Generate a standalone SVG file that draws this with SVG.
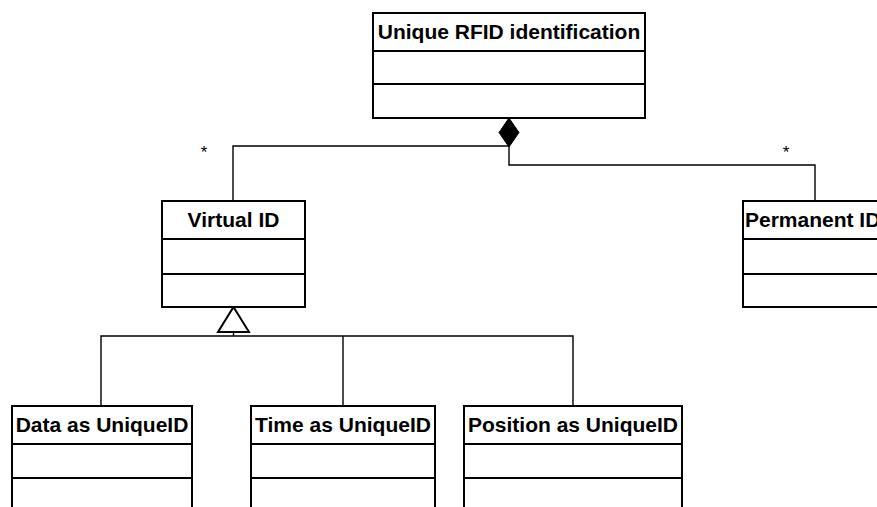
<svg xmlns="http://www.w3.org/2000/svg" width="877" height="507" viewBox="0 0 877 507">
<style>
.box{fill:#fff;stroke:#000;stroke-width:2}
.div{stroke:#000;stroke-width:2}
.t{font-family:"Liberation Sans",Arial,sans-serif;font-weight:bold;font-size:21px;fill:#000;text-anchor:middle}
.c{fill:none;stroke:#000;stroke-width:1.4}
.m{font-family:"Liberation Sans",Arial,sans-serif;font-size:17px;fill:#000;text-anchor:middle}
</style>
<rect width="877" height="507" fill="#fff"/>
<g id="connectors">
<polyline class="c" points="233,201 233,146 509,146"/>
<polyline class="c" points="509,147 509,165 815,165 815,201"/>
<polygon points="509,118 519,132.5 509,147 499,132.5" fill="#000" stroke="#000" stroke-width="1"/>
<text class="m" x="204" y="158">*</text>
<text class="m" x="786" y="158">*</text>
<polyline class="c" points="233.5,332 233.5,336"/>
<polyline class="c" points="101,406 101,336 573,336 573,406"/>
<line class="c" x1="343" y1="336" x2="343" y2="406"/>
<polygon points="233.5,307 249,332 218,332" fill="#fff" stroke="#000" stroke-width="2"/>
</g>
<g id="unique-rfid">
<rect class="box" x="373" y="13" width="272" height="105"/>
<line class="div" x1="373" y1="51" x2="645" y2="51"/>
<line class="div" x1="373" y1="84" x2="645" y2="84"/>
<text class="t" x="509" y="39">Unique RFID identification</text>
</g>
<g id="virtual-id">
<rect class="box" x="162" y="201" width="143" height="106"/>
<line class="div" x1="162" y1="239" x2="305" y2="239"/>
<line class="div" x1="162" y1="274" x2="305" y2="274"/>
<text class="t" x="233.5" y="227">Virtual ID</text>
</g>
<g id="permanent-id">
<rect class="box" x="743" y="201" width="140" height="106"/>
<line class="div" x1="743" y1="239" x2="883" y2="239"/>
<line class="div" x1="743" y1="274" x2="883" y2="274"/>
<text class="t" x="745" y="227" style="text-anchor:start">Permanent ID</text>
</g>
<g id="data-uid">
<rect class="box" x="12" y="406" width="180" height="120"/>
<line class="div" x1="12" y1="444" x2="192" y2="444"/>
<line class="div" x1="12" y1="478" x2="192" y2="478"/>
<text class="t" x="102" y="432">Data as UniqueID</text>
</g>
<g id="time-uid">
<rect class="box" x="251" y="406" width="184" height="120"/>
<line class="div" x1="251" y1="444" x2="435" y2="444"/>
<line class="div" x1="251" y1="478" x2="435" y2="478"/>
<text class="t" x="343" y="432">Time as UniqueID</text>
</g>
<g id="position-uid">
<rect class="box" x="464" y="406" width="218" height="120"/>
<line class="div" x1="464" y1="444" x2="682" y2="444"/>
<line class="div" x1="464" y1="478" x2="682" y2="478"/>
<text class="t" x="573" y="432">Position as UniqueID</text>
</g>
</svg>
